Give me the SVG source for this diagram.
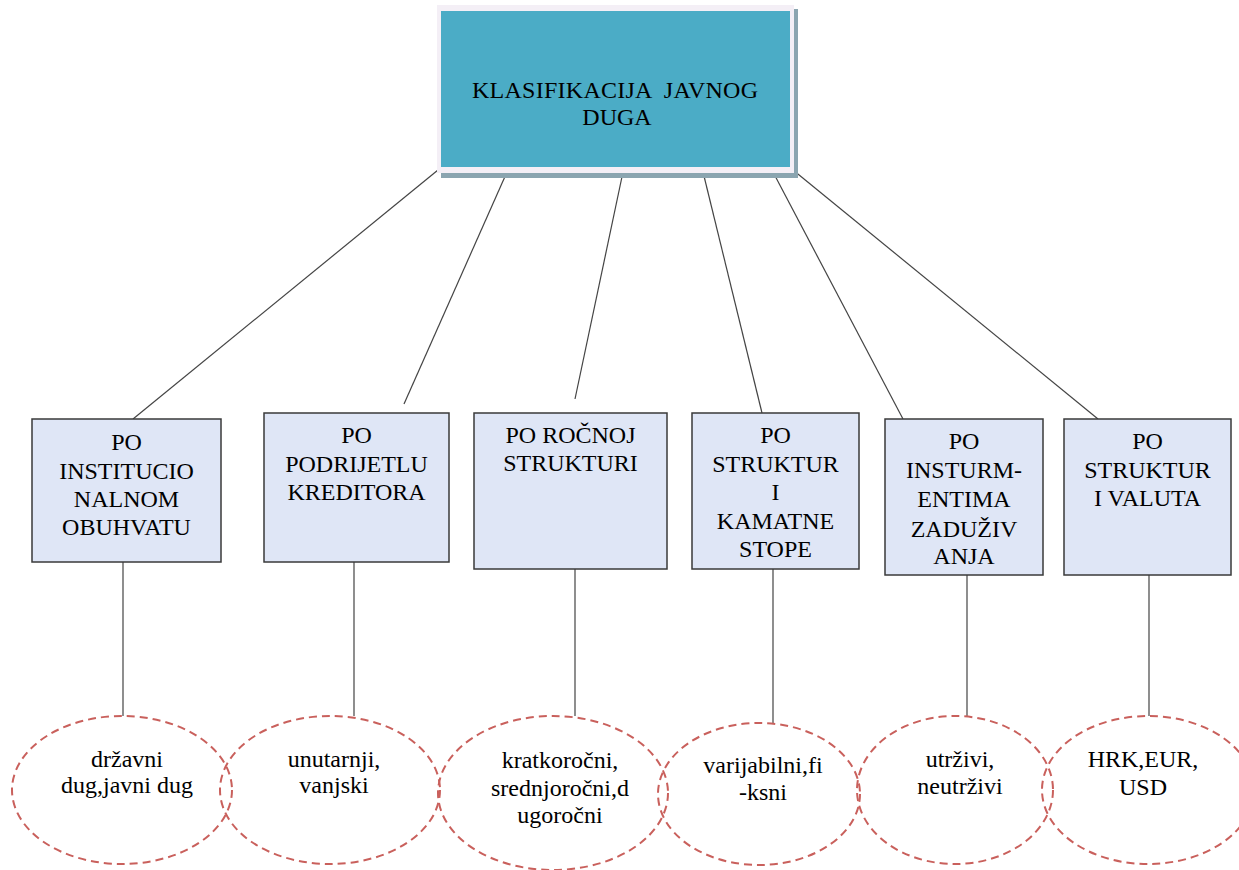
<svg xmlns="http://www.w3.org/2000/svg" width="1239" height="870" viewBox="0 0 1239 870">
<style>
.t{font-size:24px;fill:#000;text-anchor:middle}
.box{fill:#dfe6f6;stroke:#3a3a3a;stroke-width:1.5}
.ell{fill:none;stroke:#c9605c;stroke-width:2;stroke-dasharray:8 5}
.con line{stroke:#444;stroke-width:1.2}
</style>
<rect width="1239" height="870" fill="#fff"/>
<g id="connectors" class="con">
<line x1="438" y1="170" x2="133" y2="419"/>
<line x1="507" y1="172" x2="404" y2="404"/>
<line x1="623" y1="172" x2="575" y2="399"/>
<line x1="703" y1="172" x2="762" y2="413"/>
<line x1="773" y1="172" x2="903" y2="419"/>
<line x1="793" y1="170" x2="1098" y2="419"/>
<line x1="123" y1="562" x2="123" y2="716"/>
<line x1="354" y1="562" x2="354" y2="716"/>
<line x1="575" y1="569" x2="575" y2="716"/>
<line x1="773" y1="569" x2="773" y2="723"/>
<line x1="967" y1="575" x2="967" y2="716"/>
<line x1="1149" y1="575" x2="1149" y2="716"/>
</g>
<g font-family="Liberation Serif, DejaVu Serif, serif">
<g id="root">
<rect x="441" y="9" width="357" height="169" fill="#8ba5b0"/>
<rect x="437" y="5" width="357" height="168" fill="#f4eff6"/>
<rect x="441" y="11" width="349" height="156" fill="#4bacc6"/>
<text class="t" x="615" y="98" textLength="286" lengthAdjust="spacing" xml:space="preserve">KLASIFIKACIJA  JAVNOG</text>
<text class="t" x="617" y="125">DUGA</text>
</g>
<g id="n1">
<rect class="box" x="32" y="419" width="189" height="143"/>
<text class="t" x="126.5" y="450">PO</text>
<text class="t" x="126.5" y="479">INSTITUCIO</text>
<text class="t" x="126.5" y="507">NALNOM</text>
<text class="t" x="126.5" y="535">OBUHVATU</text>
</g>
<g id="n2">
<rect class="box" x="264" y="413" width="185" height="149"/>
<text class="t" x="356.5" y="443">PO</text>
<text class="t" x="356.5" y="472">PODRIJETLU</text>
<text class="t" x="356.5" y="500">KREDITORA</text>
</g>
<g id="n3">
<rect class="box" x="474" y="413" width="193" height="156"/>
<text class="t" x="570.5" y="443">PO ROČNOJ</text>
<text class="t" x="570.5" y="471">STRUKTURI</text>
</g>
<g id="n4">
<rect class="box" x="692" y="413" width="167" height="156"/>
<text class="t" x="775.5" y="443">PO</text>
<text class="t" x="775.5" y="472">STRUKTUR</text>
<text class="t" x="775.5" y="500">I</text>
<text class="t" x="775.5" y="529">KAMATNE</text>
<text class="t" x="775.5" y="557">STOPE</text>
</g>
<g id="n5">
<rect class="box" x="885" y="419" width="158" height="156"/>
<text class="t" x="964" y="449">PO</text>
<text class="t" x="964" y="478">INSTURM-</text>
<text class="t" x="964" y="507">ENTIMA</text>
<text class="t" x="964" y="537">ZADUŽIV</text>
<text class="t" x="964" y="564">ANJA</text>
</g>
<g id="n6">
<rect class="box" x="1064" y="419" width="167" height="156"/>
<text class="t" x="1147.5" y="449">PO</text>
<text class="t" x="1147.5" y="478">STRUKTUR</text>
<text class="t" x="1147.5" y="506">I VALUTA</text>
</g>
<g id="e1">
<ellipse class="ell" cx="122" cy="790" rx="110" ry="74"/>
<text class="t" x="127" y="767">državni</text>
<text class="t" x="127" y="793">dug,javni dug</text>
</g>
<g id="e2">
<ellipse class="ell" cx="330" cy="790" rx="110" ry="74"/>
<text class="t" x="334" y="767">unutarnji,</text>
<text class="t" x="334" y="793">vanjski</text>
</g>
<g id="e3">
<ellipse class="ell" cx="553" cy="793" rx="115" ry="77"/>
<text class="t" x="560" y="768">kratkoročni,</text>
<text class="t" x="560" y="796">srednjoročni,d</text>
<text class="t" x="560" y="823">ugoročni</text>
</g>
<g id="e4">
<ellipse class="ell" cx="759" cy="794" rx="101" ry="71"/>
<text class="t" x="763" y="773">varijabilni,fi</text>
<text class="t" x="763" y="800">-ksni</text>
</g>
<g id="e5">
<ellipse class="ell" cx="955" cy="790" rx="98" ry="74"/>
<text class="t" x="960" y="767">utrživi,</text>
<text class="t" x="960" y="794">neutrživi</text>
</g>
<g id="e6">
<ellipse class="ell" cx="1148" cy="790" rx="106" ry="74"/>
<text class="t" x="1143" y="767">HRK,EUR,</text>
<text class="t" x="1143" y="795">USD</text>
</g>
</g>
</svg>
